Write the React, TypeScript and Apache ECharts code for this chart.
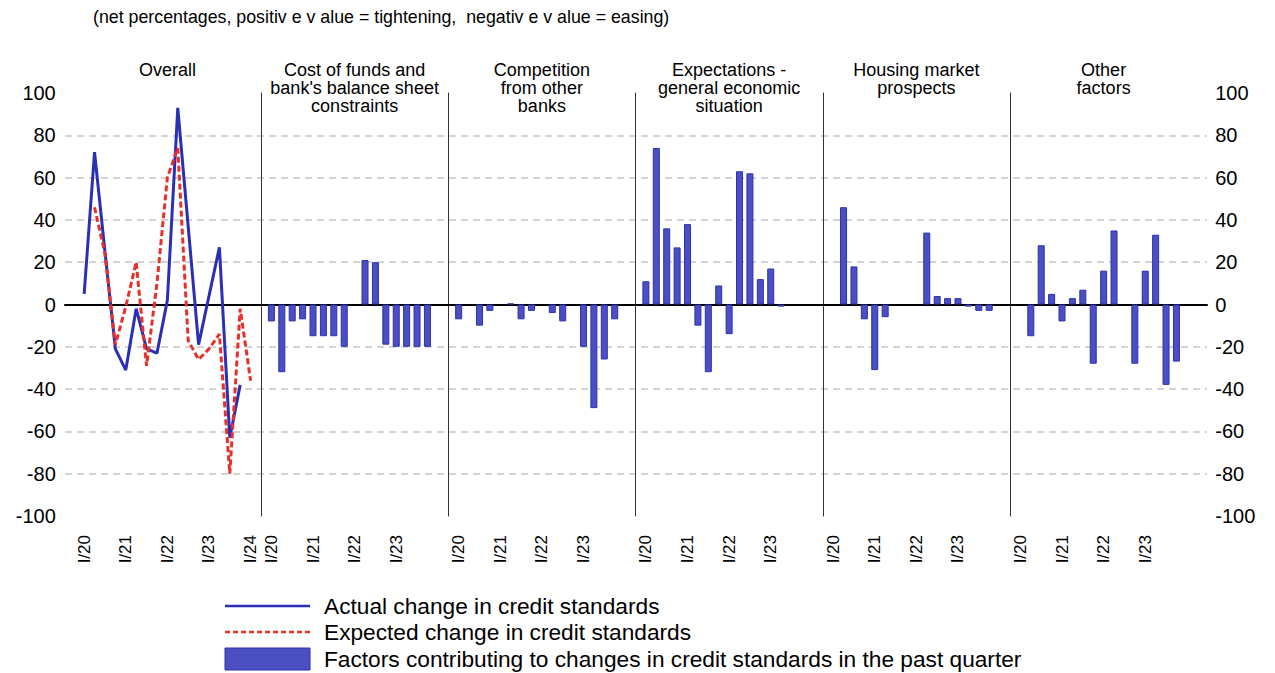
import React, { useEffect, useRef } from 'react';
import * as echarts from 'echarts';

const quarters = ['I/20', 'II/20', 'III/20', 'IV/20', 'I/21', 'II/21', 'III/21', 'IV/21', 'I/22', 'II/22', 'III/22', 'IV/22', 'I/23', 'II/23', 'III/23', 'IV/23', 'I/24'];

const panelTitles = [
  'Overall',
  "Cost of funds and\nbank's balance sheet\nconstraints",
  'Competition\nfrom other\nbanks',
  'Expectations -\ngeneral economic\nsituation',
  'Housing market\nprospects',
  'Other\nfactors',
];

const subtitle = '(net percentages, positiv e v alue = tightening,  negativ e v alue = easing)';

const seriesNames = [
  'Actual change in credit standards',
  'Expected change in credit standards',
  'Factors contributing to changes in credit standards in the past quarter',
];

const actualChange = [5, 72, 25, -21, -31, -2, -21, -23, 2, 93, 37, -19, 4, 27, -63, -38];
const expectedChange = [null, 46, 24, -19, -1, 20, -29, 10, 60, 74, -17, -26, -21, -14, -80, -2, -36];

const costOfFunds = [-8, -32, -8, -7, -15, -15, -15, -20, null, 21, 20, -19, -20, -20, -20, -20];
const competition = [-7, null, -10, -3, null, 0.5, -7, -3, null, -4, -8, null, -20, -49, -26, -7];
const expectations = [11, 74, 36, 27, 38, -10, -32, 9, -14, 63, 62, 12, 17, -1];
const housing = [null, 46, 18, -7, -31, -6, null, null, null, 34, 4, 3, 3, -1, -3, -3];
const otherFactors = [null, -15, 28, 5, -8, 3, 7, -28, 16, 35, null, -28, 16, 33, -38, -27];

const yTicks = { min: -100, max: 100, interval: 20 };

const factorPanels = [costOfFunds, competition, expectations, housing, otherFactors];

const FONT = "'Liberation Sans', Arial, sans-serif";
const PANEL_LEFT = 73.75;
const PANEL_W = 187.25;
const TOP = 93;
const H = 423;
const BLUE = '#2b2fb6';
const RED = '#e8302a';
const BAR_FILL = '#4b4fc1';
const BAR_EDGE = '#2c30b0';

export default function App() {
  const ref = useRef<HTMLDivElement>(null);
  useEffect(() => {
    if (!ref.current) return;
    const chart = echarts.init(ref.current, undefined, { renderer: 'svg' });
    const cats = ['', ...quarters, ''];
    const grids: any[] = [];
    const xAxes: any[] = [];
    const yAxes: any[] = [];
    for (let i = 0; i < 6; i++) {
      grids.push({ left: PANEL_LEFT + PANEL_W * i, width: PANEL_W, top: TOP, height: H });
      xAxes.push({
        type: 'category',
        gridIndex: i,
        data: cats,
        boundaryGap: false,
        axisLine: { show: false, onZero: false },
        axisTick: { show: false },
        splitLine: { show: false },
        axisLabel: {
          rotate: 90,
          margin: 19,
          fontSize: 17,
          fontFamily: FONT,
          color: '#000',
          interval: (_idx: number, val: string) => val.startsWith('I/') && (i === 0 || val !== 'I/24'),
        },
      });
      yAxes.push({
        type: 'value',
        gridIndex: i,
        ...yTicks,
        splitLine: { show: false },
        axisTick: { show: false },
        axisLine: { show: i > 0, onZero: false, lineStyle: { color: '#333', width: 1 } },
        axisLabel: { show: i === 0, fontSize: 20, fontFamily: FONT, color: '#000', margin: 18 },
      });
    }
    yAxes.push({
      type: 'value',
      gridIndex: 5,
      position: 'right',
      ...yTicks,
      splitLine: { show: false },
      axisTick: { show: false },
      axisLine: { show: false },
      axisLabel: { show: true, fontSize: 20, fontFamily: FONT, color: '#000', margin: 18 },
    });
    grids.push({ left: 65, width: 1142, top: TOP + H * 0.1, height: H * 0.8 });
    xAxes.push({
      type: 'value',
      gridIndex: 6,
      min: 0,
      max: 1,
      axisLine: { show: true, onZero: true, lineStyle: { color: '#000', width: 2 } },
      axisTick: { show: false },
      axisLabel: { show: false },
      splitLine: { show: false },
    });
    yAxes.push({
      type: 'value',
      gridIndex: 6,
      min: -80,
      max: 80,
      interval: 20,
      axisLine: { show: false },
      axisTick: { show: false },
      axisLabel: { show: false },
      splitLine: { show: true, lineStyle: { color: '#d4d4d4', width: 2, type: [7, 5] } },
    });

    const series: any[] = [
      {
        name: seriesNames[0],
        type: 'line',
        xAxisIndex: 0,
        yAxisIndex: 0,
        data: [null, ...actualChange],
        symbol: 'none',
        lineStyle: { color: BLUE, width: 3 },
        itemStyle: { color: BLUE },
        z: 3,
      },
      {
        name: seriesNames[1],
        type: 'line',
        xAxisIndex: 0,
        yAxisIndex: 0,
        data: [null, ...expectedChange],
        symbol: 'none',
        lineStyle: { color: RED, width: 3, type: [6, 3] },
        itemStyle: { color: RED },
        z: 4,
      },
    ];
    factorPanels.forEach((arr, j) => {
      series.push({
        name: seriesNames[2],
        type: 'bar',
        xAxisIndex: j + 1,
        yAxisIndex: j + 1,
        data: [null, ...arr],
        barWidth: 7,
        itemStyle: { color: BAR_FILL, borderColor: BAR_EDGE, borderWidth: 1 },
      });
    });

    const graphics: any[] = [
      {
        type: 'text',
        left: 93,
        top: 8,
        style: { text: subtitle, fontSize: 17.8, fontFamily: FONT, fill: '#000' },
      },
    ];
    panelTitles.forEach((t, i) => {
      graphics.push({
        type: 'text',
        x: PANEL_LEFT + PANEL_W * (i + 0.5),
        y: 61,
        style: {
          text: t,
          fontSize: 18,
          fontFamily: FONT,
          fill: '#000',
          lineHeight: 18,
          align: 'center',
          textAlign: 'center',
          verticalAlign: 'top',
          textVerticalAlign: 'top',
        },
      });
    });
    const legX = 225;
    const legW = 85;
    const rows = [606, 632, 659];
    graphics.push({
      type: 'line',
      shape: { x1: legX, y1: rows[0], x2: legX + legW, y2: rows[0] },
      style: { stroke: BLUE, lineWidth: 2.5 },
    });
    graphics.push({
      type: 'line',
      shape: { x1: legX, y1: rows[1], x2: legX + legW, y2: rows[1] },
      style: { stroke: RED, lineWidth: 2.5, lineDash: [5, 3] },
    });
    graphics.push({
      type: 'rect',
      shape: { x: legX, y: rows[2] - 11, width: legW, height: 22 },
      style: { fill: BAR_FILL, stroke: BAR_EDGE, lineWidth: 1 },
    });
    seriesNames.forEach((n, i) => {
      graphics.push({
        type: 'text',
        x: 324,
        y: rows[i],
        style: {
          text: n,
          fontSize: 22.7,
          fontFamily: FONT,
          fill: '#000',
          align: 'left',
          textAlign: 'left',
          verticalAlign: 'middle',
          textVerticalAlign: 'middle',
        },
      });
    });

    chart.setOption({
      animation: false,
      backgroundColor: '#fff',
      grid: grids,
      xAxis: xAxes,
      yAxis: yAxes,
      series,
      graphic: graphics,
    });
    return () => chart.dispose();
  }, []);
  return (
    <div
      ref={ref}
      style={{ position: 'fixed', left: 0, top: 0, width: 1275, height: 673, background: '#fff' }}
    />
  );
}
